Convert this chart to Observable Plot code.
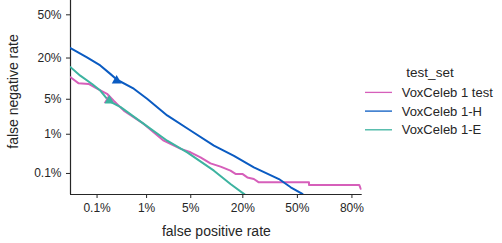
<!DOCTYPE html>
<html><head><meta charset="utf-8">
<script src="https://cdn.jsdelivr.net/npm/d3@7"></script>
<script src="https://cdn.jsdelivr.net/npm/@observablehq/plot@0.6"></script>
<style>
body{margin:0;background:#fff;}
#wrap{width:502px;height:243px;}
</style></head><body><div id="wrap"></div>
<script>
// ---- data (rates in percent) ----
const testSets = ["VoxCeleb 1 test", "VoxCeleb 1-H", "VoxCeleb 1-E"];
const setColors = ["#d65fba", "#0a5bc2", "#3db3a0"];

const fprTest = [0.0233, 0.037, 0.064, 0.10, 0.166, 0.23, 0.37, 0.89, 1.96, 3.6, 4.96, 6.75, 9.0, 11.8, 15.1, 17.0, 19.8, 22.0, 25.1, 27.6, 57.1, 57.1, 83.0, 83.6];
const fnrTest = [11.2, 9.1, 8.9, 7.5, 6.2, 4.7, 3.1, 1.68, 0.71, 0.45, 0.37, 0.275, 0.19, 0.155, 0.12, 0.097, 0.097, 0.077, 0.069, 0.055, 0.055, 0.046, 0.046, 0.035];

const fprHard = [0.0233, 0.0585, 0.118, 0.195, 0.27, 0.58, 1.02, 2.23, 4.96, 9.9, 16.4, 25.1, 38.8, 45.9, 53.1];
const fnrHard = [25.8, 20.4, 16.2, 12.5, 10.3, 7.5, 5.1, 2.5, 1.21, 0.54, 0.30, 0.148, 0.069, 0.039, 0.0242];

const fprEasy = [0.0233, 0.0405, 0.077, 0.118, 0.18, 0.32, 0.89, 2.23, 4.46, 9.9, 15.1, 20.9];
const fnrEasy = [15.4, 11.8, 8.9, 7.0, 4.7, 3.6, 1.68, 0.71, 0.37, 0.12, 0.049, 0.023];

// operating-point markers
const markerFpr = [0.18, 0.265, 0.186];
const markerFnr = [4.8, 10.0, 4.74];

const xTickValues = [0.1, 1, 5, 20, 50, 80];
const yTickValues = [0.1, 1, 5, 20, 50];

// ---- inverse normal CDF (Acklam) ----
function probit(p) {
  const a = [-3.969683028665376e+01, 2.209460984245205e+02, -2.759285104469687e+02, 1.383577518672690e+02, -3.066479806614716e+01, 2.506628277459239e+00];
  const b = [-5.447609879822406e+01, 1.615858368580409e+02, -1.556989798598866e+02, 6.680131188771972e+01, -1.328068155288572e+01];
  const c = [-7.784894002430293e-03, -3.223964580411365e-01, -2.400758277161838e+00, -2.549732539343734e+00, 4.374664141464968e+00, 2.938163982698783e+00];
  const d = [7.784695709041462e-03, 3.224671290700398e-01, 2.445134137142996e+00, 3.754408661907416e+00];
  const pl = 0.02425, ph = 1 - pl;
  let q, r;
  if (p < pl) { q = Math.sqrt(-2 * Math.log(p));
    return (((((c[0]*q+c[1])*q+c[2])*q+c[3])*q+c[4])*q+c[5]) / ((((d[0]*q+d[1])*q+d[2])*q+d[3])*q+1); }
  if (p > ph) { q = Math.sqrt(-2 * Math.log(1 - p));
    return -(((((c[0]*q+c[1])*q+c[2])*q+c[3])*q+c[4])*q+c[5]) / ((((d[0]*q+d[1])*q+d[2])*q+d[3])*q+1); }
  q = p - 0.5; r = q * q;
  return (((((a[0]*r+a[1])*r+a[2])*r+a[3])*r+a[4])*r+a[5])*q / (((((b[0]*r+b[1])*r+b[2])*r+b[3])*r+b[4])*r+1);
}

const curves = [[fprTest, fnrTest], [fprHard, fnrHard], [fprEasy, fnrEasy]];
const rows = [];
curves.forEach(([f, n], k) => f.forEach((v, i) => rows.push({set: testSets[k], fpr: v, fnr: n[i]})));
const markers = testSets.map((s, k) => ({set: s, fpr: markerFpr[k], fnr: markerFnr[k]}));

const xTicks = xTickValues.map(t => probit(t / 100));
const yTicks = yTickValues.map(t => probit(t / 100));
const xLab = new Map(xTicks.map((t, i) => [t, xTickValues[i] + "%"]));
const yLab = new Map(yTicks.map((t, i) => [t, yTickValues[i] + "%"]));

const ink = "#262626";
const chart = Plot.plot({
  width: 502, height: 243,
  marginLeft: 70, marginRight: 140.3, marginTop: 0, marginBottom: 49,
  style: {fontFamily: "'Liberation Sans', Arial, sans-serif", fontSize: "12px", color: ink, background: "white"},
  x: {domain: [-3.5, 1.0]},
  y: {domain: [-3.5, 0.279]},
  color: {domain: testSets, range: setColors},
  marks: [
    Plot.axisX({ticks: xTicks, tickFormat: d => xLab.get(d), tickSize: 4, tickPadding: 5, label: null, stroke: ink, fill: ink, fontSize: 12}),
    Plot.axisY({ticks: yTicks, tickFormat: d => yLab.get(d), tickSize: 4, tickPadding: 5, label: null, stroke: ink, fill: ink, fontSize: 12}),
    Plot.ruleX([-3.5], {stroke: ink, strokeWidth: 1.2}),
    Plot.ruleY([-3.5], {stroke: ink, strokeWidth: 1.2}),
    Plot.line(rows, {x: d => probit(d.fpr / 100), y: d => probit(d.fnr / 100), z: "set", stroke: "set", strokeWidth: 2, clip: true}),
    Plot.dot(markers, {x: d => probit(d.fpr / 100), y: d => probit(d.fnr / 100), fill: "set", symbol: "triangle", r: 3.6}),
    Plot.text(["false positive rate"], {frameAnchor: "bottom", lineAnchor: "middle", textAnchor: "middle", dy: 37.5, fontSize: 14, fill: ink}),
    Plot.text(["false negative rate"], {frameAnchor: "left", lineAnchor: "middle", textAnchor: "middle", dx: -56.7, dy: -6, rotate: -90, fontSize: 14, fill: ink})
  ]
});
document.getElementById("wrap").appendChild(chart);

// legend
const svg = d3.select(chart);
const lg = svg.append("g").attr("font-family", "'Liberation Sans', Arial, sans-serif").attr("fill", ink).attr("text-anchor", "start");
lg.append("text").attr("x", 430).attr("y", 72.7).attr("text-anchor", "middle").attr("dy", "0.35em").attr("font-size", 13.5).text("test_set");
testSets.forEach((s, i) => {
  const y = 92.4 + i * 18.7;
  lg.append("line").attr("x1", 365).attr("x2", 392).attr("y1", y).attr("y2", y).attr("stroke", setColors[i]).attr("stroke-width", 1.3);
  lg.append("text").attr("x", 401.7).attr("y", y).attr("dy", "0.35em").attr("font-size", 13).text(s);
});
</script></body></html>
